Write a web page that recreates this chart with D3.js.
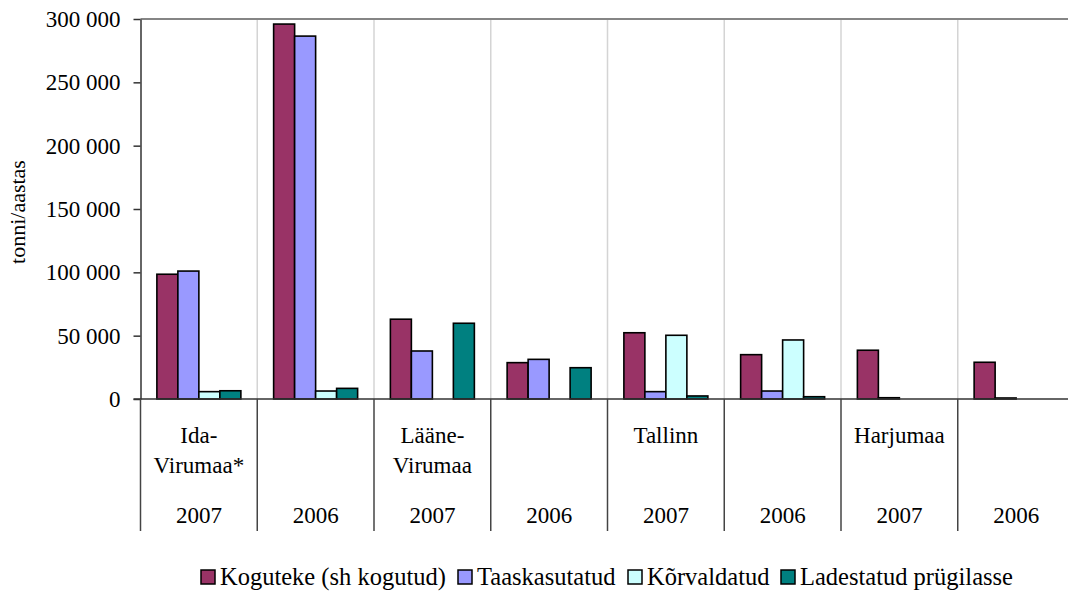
<!DOCTYPE html>
<html>
<head>
<meta charset="utf-8">
<script src="https://cdn.jsdelivr.net/npm/d3@7"></script>
<style>
	body { margin: 0; background: #fff; }
	svg text { font-family: "Liberation Serif", "Times New Roman", serif; fill: #000; }
</style>
</head>
<body>
<div id="chart"></div>
<script>
// categories: region (first row) and year (second row)
const regions = ["Ida-Virumaa*", "", "Lääne-Virumaa", "", "Tallinn", "", "Harjumaa", ""];
const years = ["2007", "2006", "2007", "2006", "2007", "2006", "2007", "2006"];

const seriesNames = ["Koguteke (sh kogutud)", "Taaskasutatud", "Kõrvaldatud", "Ladestatud prügilasse"];
const koguteke = [98500, 296000, 63000, 28700, 52300, 35000, 38500, 29000];
const taaskasutatud = [101000, 286500, 37900, 31300, 5800, 6300, 1000, 800];
const korvaldatud = [5800, 6300, 0, 0, 50300, 46600, 0, 0];
const ladestatud = [6500, 8400, 59800, 24700, 2400, 1800, 0, 0];

const yTicks = [0, 50000, 100000, 150000, 200000, 250000, 300000];
const colours = ["#993366", "#9999ff", "#ccffff", "#008080"];

const width = 1068;
const height = 594;
const plotLeft = 140.5;
const plotTop = 19;
const plotBottom = 399;
const groupStep = 116.75;
const plotRight = plotLeft + groupStep * years.length;

const seriesValues = [koguteke, taaskasutatud, korvaldatud, ladestatud];
const idx = d3.range(years.length);

const x = d3.scaleBand().domain(idx).range([plotLeft, plotRight]).padding(0);
const xInner = d3.scaleBand().domain(d3.range(seriesNames.length))
	.range([0, x.bandwidth()]).paddingInner(0).paddingOuter(0.78);
const y = d3.scaleLinear().domain([0, 300000]).range([plotBottom, plotTop]);

const fmt = (v) => d3.format(",")(v).replace(/,/g, " ");

const svg = d3.select("#chart").append("svg")
	.attr("width", width)
	.attr("height", height);

// vertical gridlines between groups
svg.append("g")
	.selectAll("line")
	.data(idx.slice(1))
	.enter()
	.append("line")
	.attr("x1", (i) => x(i)).attr("x2", (i) => x(i))
	.attr("y1", plotTop).attr("y2", plotBottom)
	.attr("stroke", "#d4d4d4")
	.attr("stroke-width", 1.5);

// top line (300 000)
svg.append("line")
	.attr("x1", plotLeft).attr("x2", plotRight)
	.attr("y1", y(300000)).attr("y2", y(300000))
	.attr("stroke", "#858585")
	.attr("stroke-width", 2);

// bars
const groups = svg.append("g")
	.selectAll("g")
	.data(idx)
	.enter()
	.append("g")
	.attr("transform", (i) => `translate(${x(i)},0)`);

groups.selectAll("rect")
	.data((i) => seriesValues.map((s, k) => ({k, v: s[i]})).filter((d) => d.v > 0))
	.enter()
	.append("rect")
	.attr("x", (d) => xInner(d.k))
	.attr("width", xInner.bandwidth())
	.attr("y", (d) => y(d.v))
	.attr("height", (d) => y(0) - y(d.v))
	.attr("fill", (d) => colours[d.k])
	.attr("stroke", "#000")
	.attr("stroke-width", 1.6);

// y axis
const yAxis = svg.append("g")
	.attr("transform", `translate(${plotLeft},0)`)
	.call(d3.axisLeft(y).tickValues(yTicks).tickFormat(fmt).tickSize(7).tickSizeOuter(0));
yAxis.select(".domain").attr("stroke", "#333").attr("stroke-width", 1.5);
yAxis.selectAll(".tick line").attr("stroke", "#333").attr("stroke-width", 1.5);
yAxis.selectAll(".tick text")
	.attr("x", -20)
	.attr("dy", "0.33em")
	.style("font-size", "23px")
	.style("font-family", "'Liberation Serif', serif");

// x axis line
svg.append("line")
	.attr("x1", plotLeft - 7).attr("x2", plotRight)
	.attr("y1", plotBottom).attr("y2", plotBottom)
	.attr("stroke", "#333")
	.attr("stroke-width", 1.5);

// category separators
svg.append("g")
	.selectAll("line")
	.data(d3.range(years.length + 1))
	.enter()
	.append("line")
	.attr("x1", (i) => plotLeft + i * groupStep).attr("x2", (i) => plotLeft + i * groupStep)
	.attr("y1", plotBottom).attr("y2", 531)
	.attr("stroke", "#444")
	.attr("stroke-width", 1.5);

// region labels (wrapped after hyphen)
const regionText = svg.append("g")
	.selectAll("text")
	.data(idx.filter((i) => regions[i] !== ""))
	.enter()
	.append("text")
	.attr("x", (i) => x(i) + x.bandwidth() / 2)
	.attr("y", 443)
	.attr("text-anchor", "middle")
	.style("font-size", "23px");

regionText.each(function (i) {
	const parts = regions[i].split(/(?<=-)/);
	d3.select(this).selectAll("tspan")
		.data(parts)
		.enter()
		.append("tspan")
		.attr("x", x(i) + x.bandwidth() / 2)
		.attr("dy", (d, j) => (j === 0 ? 0 : 30))
		.text((d) => d);
});

// year labels
svg.append("g")
	.selectAll("text")
	.data(idx)
	.enter()
	.append("text")
	.attr("x", (i) => x(i) + x.bandwidth() / 2)
	.attr("y", 523)
	.attr("text-anchor", "middle")
	.style("font-size", "23px")
	.text((i) => years[i]);

// y axis title
svg.append("text")
	.attr("transform", "translate(25,212) rotate(-90)")
	.attr("text-anchor", "middle")
	.style("font-size", "22px")
	.text("tonni/aastas");

// legend
const legendX = [201, 458, 628, 781];
const legend = svg.append("g")
	.selectAll("g")
	.data(seriesNames)
	.enter()
	.append("g")
	.attr("transform", (d, k) => `translate(${legendX[k]},570)`);

legend.append("rect")
	.attr("width", 14)
	.attr("height", 14)
	.attr("fill", (d, k) => colours[k])
	.attr("stroke", "#000")
	.attr("stroke-width", 1.5);

legend.append("text")
	.attr("x", 19)
	.attr("y", 15)
	.style("font-size", "24.5px")
	.text((d) => d);
</script>
</body>
</html>
